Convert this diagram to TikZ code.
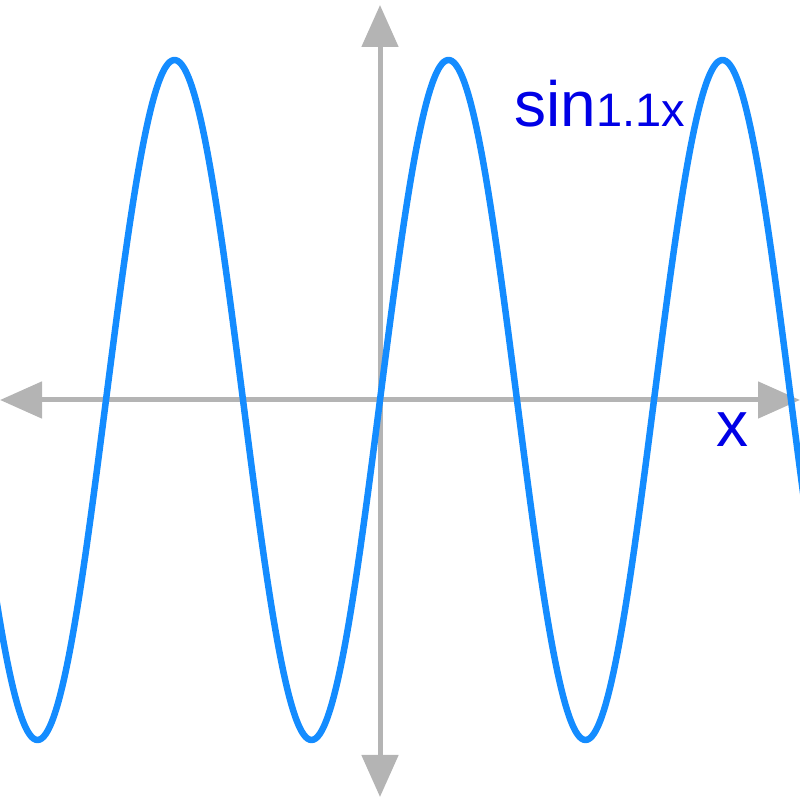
\documentclass[tikz,border=0pt]{standalone}
\usepackage{fontspec}
\setmainfont{Liberation Sans}
\usetikzlibrary{arrows.meta}
\definecolor{axisgray}{RGB}{180,180,180}
\definecolor{wave}{RGB}{20,140,255}
\definecolor{lab}{RGB}{0,0,230}
\begin{document}
\begin{tikzpicture}[x=1pt,y=1pt,
  axis/.style={draw=axisgray,line width=5pt,-{Triangle[length=42pt,width=36pt]}},
  lbl/.style={text=lab,inner sep=0pt,anchor=base west}]
\useasboundingbox (0,0) rectangle (800,800);
\clip (0,0) rectangle (800,800);
\coordinate (o) at (380,400);
\coordinate (r) at (800,400);
\coordinate (l) at (0,400);
\coordinate (t) at (380,795);
\coordinate (b) at (380,3);
\draw[axis] (o) -- (r);
\draw[axis] (o) -- (l);
\draw[axis] (o) -- (t);
\draw[axis] (o) -- (b);
\draw[wave,line width=6.5pt,line join=round] plot[domain=-5:805,samples=400,smooth] (\x,{400+340*sin(1.3139*(\x-380))});
\node[lbl,font=\fontsize{64}{64}\selectfont] (s) at (514,673) {sin};
\node[lbl,font=\fontsize{47}{47}\selectfont] (a) at (s.base east) {1.1x};
\node[lbl,font=\fontsize{64}{64}\selectfont] (x) at (716,353) {x};
\end{tikzpicture}
\end{document}
